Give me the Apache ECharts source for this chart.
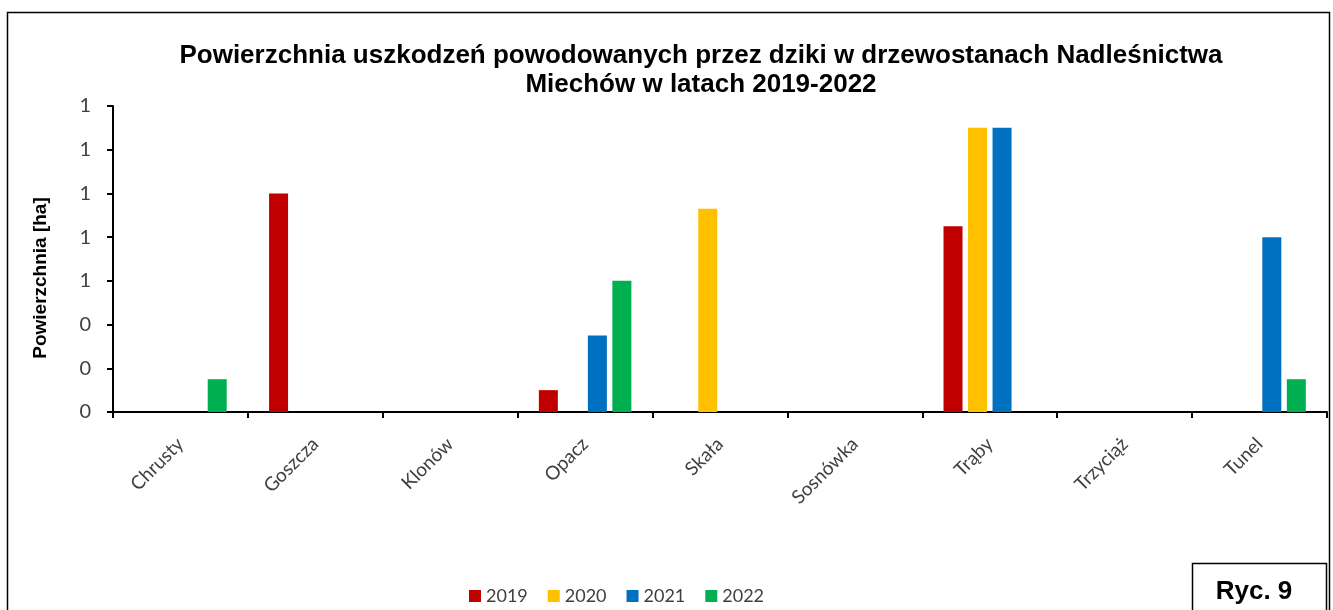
<!DOCTYPE html>
<html>
<head>
<meta charset="utf-8">
<script src="https://cdn.jsdelivr.net/npm/echarts@6/dist/echarts.min.js"></script>
<style>html,body{margin:0;padding:0;background:#fff}#c{width:1333px;height:610px}</style>
</head>
<body>
<div id="c"></div>
<script>
const categories = ['Chrusty','Goszcza','Klonów','Opacz','Skała','Sosnówka','Trąby','Trzyciąż','Tunel'];
const years = ['2019','2020','2021','2022'];
const v2019 = [0, 1.0, 0, 0.1, 0, 0, 0.85, 0, 0];
const v2020 = [0, 0, 0, 0, 0.93, 0, 1.3, 0, 0];
const v2021 = [0, 0, 0, 0.35, 0, 0, 1.3, 0, 0.8];
const v2022 = [0.15, 0, 0, 0.6, 0, 0, 0, 0, 0.15];
const colors = ['#C00000','#FFC000','#0070C0','#00B050'];
const titleText = 'Powierzchnia uszkodzeń powodowanych przez dziki w drzewostanach Nadleśnictwa\nMiechów w latach 2019-2022';
const yName = 'Powierzchnia [ha]';
const figLabel = 'Ryc. 9';

const seriesVals = [v2019, v2020, v2021, v2022];
const chart = echarts.init(document.getElementById('c'));
chart.setOption({
  animation: false,
  title: {
    text: titleText,
    left: 696, textAlign: 'center', top: 37,
    textStyle: {fontFamily: 'Liberation Sans', fontWeight: 'bold', fontSize: 26, lineHeight: 28.5, color: '#000'}
  },
  legend: {
    data: years, left: 464, top: 582,
    itemWidth: 12, itemHeight: 12, itemGap: 20,
    icon: 'rect',
    textStyle: {fontFamily: 'Lato', fontSize: 18, color: '#404040'}
  },
  grid: {left: 113, top: 106, right: 6, bottom: 198, containLabel: false},
  xAxis: {
    type: 'category', data: categories,
    axisLine: {lineStyle: {color: '#000', width: 2}},
    axisTick: {show: true, length: 6, lineStyle: {color: '#000', width: 2}},
    axisLabel: {rotate: 45, fontFamily: 'Lato', fontSize: 19, color: '#404040', margin: 29}
  },
  yAxis: {
    type: 'value', min: 0, max: 1.4, interval: 0.2,
    axisLine: {show: true, lineStyle: {color: '#000', width: 2}},
    axisTick: {show: true, length: 6, lineStyle: {color: '#000', width: 2}},
    splitLine: {show: false},
    axisLabel: {fontFamily: 'Lato', fontSize: 20, color: '#404040', margin: 22,
      formatter: v => String(Math.round(v))}
  },
  series: years.map((y, i) => ({
    name: y, type: 'bar', data: seriesVals[i],
    barWidth: 19, barGap: '29%',
    itemStyle: {color: colors[i]}
  })),
  graphic: [
    {type: 'rect', shape: {x: 7.5, y: 12.5, width: 1322, height: 620}, style: {fill: 'none', stroke: '#000', lineWidth: 1.5}, silent: true},
    {type: 'text', x: 41, y: 278, rotation: Math.PI / 2,
      style: {text: yName, font: 'bold 19px "Liberation Sans"', fill: '#000', align: 'center', verticalAlign: 'middle'}},
    {type: 'rect', shape: {x: 1192.5, y: 563.5, width: 134, height: 60}, style: {fill: '#fff', stroke: '#000', lineWidth: 1.5}, silent: true},
    {type: 'text', x: 1254, y: 592, style: {text: figLabel, font: 'bold 26px "Liberation Sans"', fill: '#000', align: 'center', verticalAlign: 'middle'}}
  ]
});
</script>
</body>
</html>
